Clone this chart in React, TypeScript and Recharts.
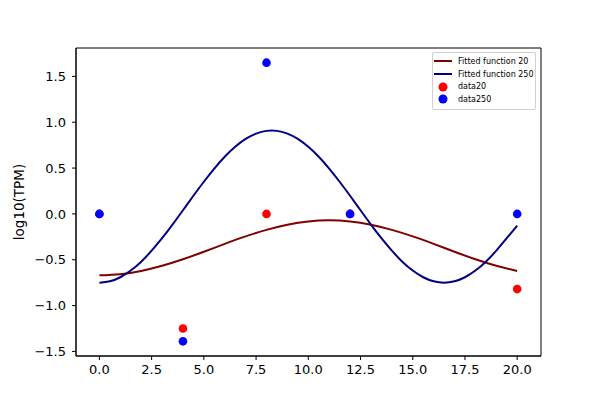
import {
  ComposedChart,
  Line,
  Scatter,
  XAxis,
  YAxis,
  ReferenceArea,
} from 'recharts';

// fitted curves
const fitX20 = [0, 1, 2, 3, 4, 5, 6, 7, 8, 9, 10, 11, 12, 13, 14, 15, 16, 17, 18, 19, 20];
const fitY20 = [
  -0.67, -0.658, -0.622, -0.566, -0.495, -0.413, -0.327, -0.245, -0.174, -0.118, -0.082,
  -0.07, -0.082, -0.118, -0.174, -0.245, -0.327, -0.413, -0.495, -0.566, -0.622,
];

const fitX250 = [
  0, 0.5, 1, 1.5, 2, 2.5, 3, 3.5, 4, 4.5, 5, 5.5, 6, 6.5, 7, 7.5, 8, 8.5, 9, 9.5, 10,
  10.5, 11, 11.5, 12, 12.5, 13, 13.5, 14, 14.5, 15, 15.5, 16, 16.5, 17, 17.5, 18, 18.5,
  19, 19.5, 20,
];
const fitY250 = [
  -0.75, -0.735, -0.691, -0.618, -0.521, -0.401, -0.265, -0.116, 0.04, 0.198, 0.351,
  0.495, 0.624, 0.732, 0.818, 0.876, 0.906, 0.906, 0.876, 0.818, 0.732, 0.624, 0.495,
  0.351, 0.198, 0.04, -0.116, -0.265, -0.401, -0.521, -0.618, -0.691, -0.735, -0.75,
  -0.735, -0.691, -0.618, -0.521, -0.401, -0.265, -0.128,
];

// measured points
const timeX = [0, 4, 8, 12, 20];
const data20Y = [0, -1.25, 0, 0, -0.82];
const data250Y = [0, -1.39, 1.65, 0, 0];

const xTicks = [0, 2.5, 5, 7.5, 10, 12.5, 15, 17.5, 20];
const yTicks = [-1.5, -1, -0.5, 0, 0.5, 1, 1.5];
const xDomain = [-1.12, 21.14];
const yDomain = [-1.55, 1.81];

const fit20 = fitX20.map((x, i) => ({ x, y: fitY20[i] }));
const fit250 = fitX250.map((x, i) => ({ x, y: fitY250[i] }));
const pts20 = timeX.map((x, i) => ({ x, y: data20Y[i] }));
const pts250 = timeX.map((x, i) => ({ x, y: data250Y[i] }));

const FONT = '"DejaVu Sans", sans-serif';
const fmt = (v: number) => v.toFixed(1).replace('-', '\u2212');

const legendItems = [
  { name: 'Fitted function 20', color: '#800000', kind: 'line' },
  { name: 'Fitted function 250', color: '#000080', kind: 'line' },
  { name: 'data20', color: '#ff0000', kind: 'dot' },
  { name: 'data250', color: '#0000ff', kind: 'dot' },
];

function LegendBox() {
  return (
    <div
      style={{
        position: 'absolute',
        left: 432,
        top: 52,
        boxSizing: 'border-box',
        border: '1px solid #d0d0d0',
        borderRadius: 2,
        background: '#fff',
        width: 104,
        padding: '2px 0 3px 0',
        fontFamily: FONT,
        fontSize: 8,
        color: '#000',
      }}
    >
      {legendItems.map((it) => (
        <div key={it.name} style={{ display: 'flex', alignItems: 'center', height: 12.7 }}>
          <svg width={24} height={12} style={{ flexShrink: 0 }}>
            {it.kind === 'line' ? (
              <line x1={1} x2={19} y1={6} y2={6} stroke={it.color} strokeWidth={2} />
            ) : (
              <circle cx={10} cy={6} r={4.5} fill={it.color} />
            )}
          </svg>
          <span style={{ marginLeft: 1, whiteSpace: 'nowrap' }}>{it.name}</span>
        </div>
      ))}
    </div>
  );
}

const dot = (color: string) => (props: any) =>
  <circle cx={props.cx} cy={props.cy} r={4.3} fill={color} />;

export default function App() {
  return (
    <div style={{ position: 'absolute', left: 0, top: 0, width: 600, height: 400, background: '#fff' }}>
      <ComposedChart width={600} height={400} margin={{ top: 48, right: 59, left: 0, bottom: 0 }}>
        <XAxis
          type="number"
          dataKey="x"
          domain={xDomain}
          ticks={xTicks}
          tickFormatter={fmt}
          height={44}
          tickSize={4}
          tickMargin={5}
          stroke="#000"
          tick={{ fill: '#000', fontSize: 13, fontFamily: FONT }}
          allowDataOverflow
        />
        <YAxis
          type="number"
          dataKey="y"
          domain={yDomain}
          ticks={yTicks}
          tickFormatter={fmt}
          width={76}
          tickSize={4}
          tickMargin={6}
          stroke="#000"
          tick={{ fill: '#000', fontSize: 13, fontFamily: FONT }}
          allowDataOverflow
          label={{
            content: (p: any) => {
              const vb = p.viewBox || { x: 0, y: 48, height: 308 };
              const cy = vb.y + vb.height / 2;
              return (
                <text
                  x={19}
                  y={cy}
                  transform={`rotate(-90, 19, ${cy})`}
                  textAnchor="middle"
                  dominantBaseline="central"
                  fontSize={13.5}
                  fontFamily={FONT}
                  fill="#000"
                >
                  log10(TPM)
                </text>
              );
            },
          }}
        />
        <ReferenceArea x1={xDomain[0]} x2={xDomain[1]} y1={yDomain[0]} y2={yDomain[1]} fill="none" stroke="#000" strokeWidth={1} ifOverflow="visible" />
        <Line data={fit20} dataKey="y" type="natural" stroke="#800000" strokeWidth={2} dot={false} isAnimationActive={false} name="Fitted function 20" />
        <Line data={fit250} dataKey="y" type="natural" stroke="#000080" strokeWidth={2} dot={false} isAnimationActive={false} name="Fitted function 250" />
        <Scatter data={pts20} dataKey="y" fill="#ff0000" shape={dot('#ff0000')} isAnimationActive={false} name="data20" />
        <Scatter data={pts250} dataKey="y" fill="#0000ff" shape={dot('#0000ff')} isAnimationActive={false} name="data250" />
      </ComposedChart>
      <LegendBox />
    </div>
  );
}
